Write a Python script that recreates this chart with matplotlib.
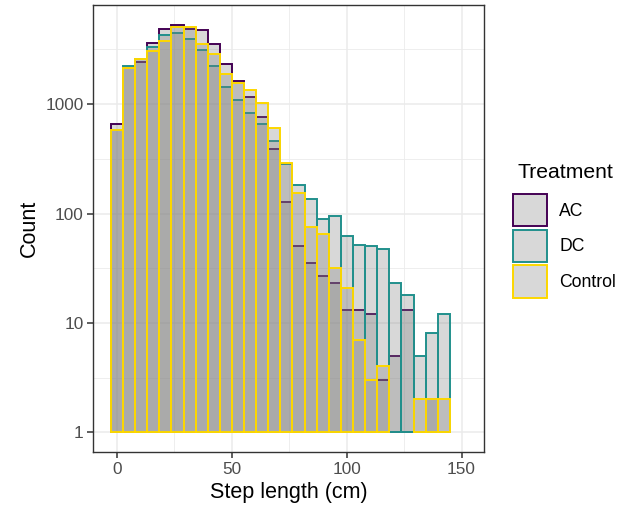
import numpy as np
import matplotlib
matplotlib.use("Agg")
import matplotlib.pyplot as plt
from matplotlib.patches import Patch

plt.rcParams['font.family'] = ['Liberation Sans', 'DejaVu Sans']

# histogram counts per bin (28 bins, step length in cm)
bin_width = 5.27
n_bins = 28
ac = [658, 2150, 2415, 3623, 4895, 5250, 4860, 4725, 3573, 2316, 1634, 1166, 756, 389,
      128, 51, 35, 27, 23, 13, 13, 12, 3, 5, 13, 0, 2, 0]
dc = [580, 2253, 2570, 3333, 4256, 4470, 3910, 3105, 2220, 1439, 1088, 834, 658, 460,
      283, 182, 136, 90, 95, 62, 52, 50, 47, 23, 18, 5, 8, 12]
control = [580, 2160, 2570, 3063, 3778, 5070, 5070, 3573, 2857, 1878, 1545, 1342, 1015, 601,
           291, 155, 76, 65, 32, 21, 7, 3, 4, 0, 0, 2, 2, 2]

groups = ['AC', 'DC', 'Control']
series = [ac, dc, control]
colors = ['#440154', '#21908C', '#FDD700']

centers = np.arange(n_bins) * bin_width

fig = plt.figure(figsize=(6.3, 5.09), dpi=100)
ax = fig.add_axes([0.148, 0.112, 0.620, 0.878])

fill = (0.5, 0.5, 0.5, 0.3)
for name, counts, col in zip(groups, series, colors):
    counts = np.array(counts, dtype=float)
    keep = counts > 0
    ax.bar(centers[keep], counts[keep] - 1, bottom=1, width=bin_width,
           facecolor=fill, edgecolor=col, linewidth=1.4, zorder=3)

ax.set_yscale('log')
ax.set_xlim(-10.3, 159.7)
ax.set_ylim(0.66, 8050)
ax.set_xticks([0, 50, 100, 150])
ax.set_xticks([25, 75, 125], minor=True)
ax.set_yticks([1, 10, 100, 1000])
ax.set_yticklabels(['1', '10', '100', '1000'])
ax.set_yticks([10 ** 0.5, 10 ** 1.5, 10 ** 2.5, 10 ** 3.5], minor=True)
ax.yaxis.set_minor_formatter(matplotlib.ticker.NullFormatter())

ax.grid(True, which='major', color='#EBEBEB', linewidth=1.1, zorder=0)
ax.grid(True, which='minor', color='#EBEBEB', linewidth=0.6, zorder=0)
ax.set_axisbelow(True)
ax.tick_params(which='major', length=4.5, width=1.1, color='#333333',
               labelsize=12.4, labelcolor='#4D4D4D', pad=2.5)
ax.tick_params(which='minor', length=0)
for s in ax.spines.values():
    s.set_color('#333333')
    s.set_linewidth(1.0)

ax.set_xlabel('Step length (cm)', fontsize=15.5, labelpad=4)
ax.set_ylabel('Count', fontsize=15.5, labelpad=4)

# legend: title as separate text, keys below
fig.text(517 / 630, 1 - 178 / 509, 'Treatment', fontsize=15.2, va='baseline', ha='left')
handles = [Patch(facecolor=fill, edgecolor=c, linewidth=1.4, label=g)
           for g, c in zip(groups, colors)]
fig.legend(handles=handles, loc='upper left',
           bbox_to_anchor=(513 / 630, 1 - 194 / 509), frameon=False, fontsize=12.7,
           handlelength=1.93, handleheight=2.43, labelspacing=0.2,
           handletextpad=0.68, borderpad=0, borderaxespad=0)

fig.savefig('out.png', dpi=100)
